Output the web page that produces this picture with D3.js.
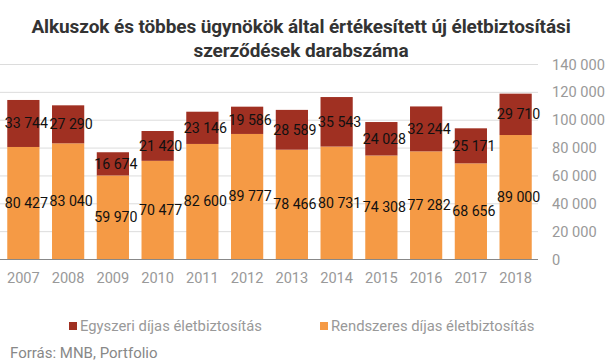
<!DOCTYPE html>
<html><head><meta charset="utf-8">
<script src="https://cdn.jsdelivr.net/npm/d3@7"></script>
<style>body{margin:0;background:#fff}svg{display:block}</style>
</head><body>
<svg id="chart" width="606" height="364"></svg>
<script>
const years = ["2007","2008","2009","2010","2011","2012","2013","2014","2015","2016","2017","2018"];
const rendszeres = [80427,83040,59970,70477,82600,89777,78466,80731,74308,77282,68656,89000];
const egyszeri = [33744,27290,16674,21420,23146,19586,28589,35543,24028,32244,25171,29710];
const yTicks = [0,20000,40000,60000,80000,100000,120000,140000];
const seriesNames = ["Egyszeri díjas életbiztosítás","Rendszeres díjas életbiztosítás"];
const colors = {egy:"#a03022", ren:"#f59a45"};

const svg = d3.select("#chart");
const fmt = v => d3.format(",")(v).replace(/,/g," ");
const x = d3.scaleBand().domain(years).range([1,538]).paddingInner(0.28).paddingOuter(0.14);
const y = d3.scaleLinear().domain([0,140000]).range([259,64]);

// title
const title = svg.append("text").attr("text-anchor","middle")
  .attr("font-family","Roboto").attr("font-weight","bold").attr("font-size","19px").attr("fill","#333")
  .attr("letter-spacing","-0.1px");
title.append("tspan").attr("x",301).attr("y",33).text("Alkuszok és többes ügynökök által értékesített új életbiztosítási");
title.append("tspan").attr("x",301).attr("y",57).text("szerződések darabszáma");

// gridlines
svg.append("g").selectAll("line").data(yTicks.filter(d=>d>0)).join("line")
  .attr("x1",0).attr("x2",538).attr("y1",d=>y(d)+0.5).attr("y2",d=>y(d)+0.5)
  .attr("stroke","#dcdcdc").attr("stroke-width",1);

// right axis labels
const yAxis = d3.axisRight(y).tickValues(yTicks).tickFormat(fmt).tickSize(0).tickPadding(0);
const ga = svg.append("g").attr("transform","translate(552,0)").call(yAxis);
ga.select(".domain").remove();
ga.selectAll("text").attr("font-family","Roboto").attr("font-size","14.6px").attr("fill","#999").attr("dy","0.35em");

// bars
const data = years.map((yr,i)=>({yr, r:rendszeres[i], e:egyszeri[i]}));
const gb = svg.append("g");
gb.selectAll("rect.ren").data(data).join("rect").attr("class","ren")
  .attr("x",d=>x(d.yr)).attr("width",x.bandwidth())
  .attr("y",d=>y(d.r)).attr("height",d=>y(0)-y(d.r)).attr("fill",colors.ren);
gb.selectAll("rect.egy").data(data).join("rect").attr("class","egy")
  .attr("x",d=>x(d.yr)).attr("width",x.bandwidth())
  .attr("y",d=>y(d.r+d.e)).attr("height",d=>y(d.r)-y(d.r+d.e)).attr("fill",colors.egy);

// baseline
svg.append("line").attr("x1",0).attr("x2",538).attr("y1",y(0)+0.5).attr("y2",y(0)+0.5)
  .attr("stroke","#888").attr("stroke-width",1);

// x labels
const xAxis = d3.axisBottom(x).tickSize(0).tickPadding(0);
const gx = svg.append("g").attr("transform","translate(0,278)").call(xAxis);
gx.select(".domain").remove();
gx.selectAll("text").attr("font-family","Roboto").attr("font-size","14.6px").attr("fill","#999").attr("dy","0.35em");

// data labels
const lab = svg.append("g").attr("font-family","Roboto").attr("font-size","14.2px").attr("fill","#111").attr("text-anchor","middle");
lab.selectAll("text.e").data(data).join("text").attr("class","e")
  .attr("x",d=>x(d.yr)+x.bandwidth()/2+3).attr("y",d=>(y(d.r)+y(d.r+d.e))/2).attr("dy","0.35em")
  .text(d=>fmt(d.e));
lab.selectAll("text.r").data(data).join("text").attr("class","r")
  .attr("x",d=>x(d.yr)+x.bandwidth()/2+3).attr("y",d=>(y(0)+y(d.r))/2).attr("dy","0.35em")
  .text(d=>fmt(d.r));

// legend
const leg = svg.append("g").attr("font-family","Roboto").attr("font-size","14.8px").attr("fill","#999");
const legX = [69,320];
[colors.egy, colors.ren].forEach((c,i)=>{
  leg.append("rect").attr("x",legX[i]).attr("y",322).attr("width",8).attr("height",8).attr("fill",c);
  leg.append("text").attr("x",legX[i]+11).attr("y",326).attr("dy","0.35em").text(seriesNames[i]);
});

// source
svg.append("text").attr("x",10).attr("y",353).attr("dy","0.35em")
  .attr("font-family","Roboto").attr("font-size","15px").attr("fill","#888").text("Forrás: MNB, Portfolio");
</script>
</body></html>
